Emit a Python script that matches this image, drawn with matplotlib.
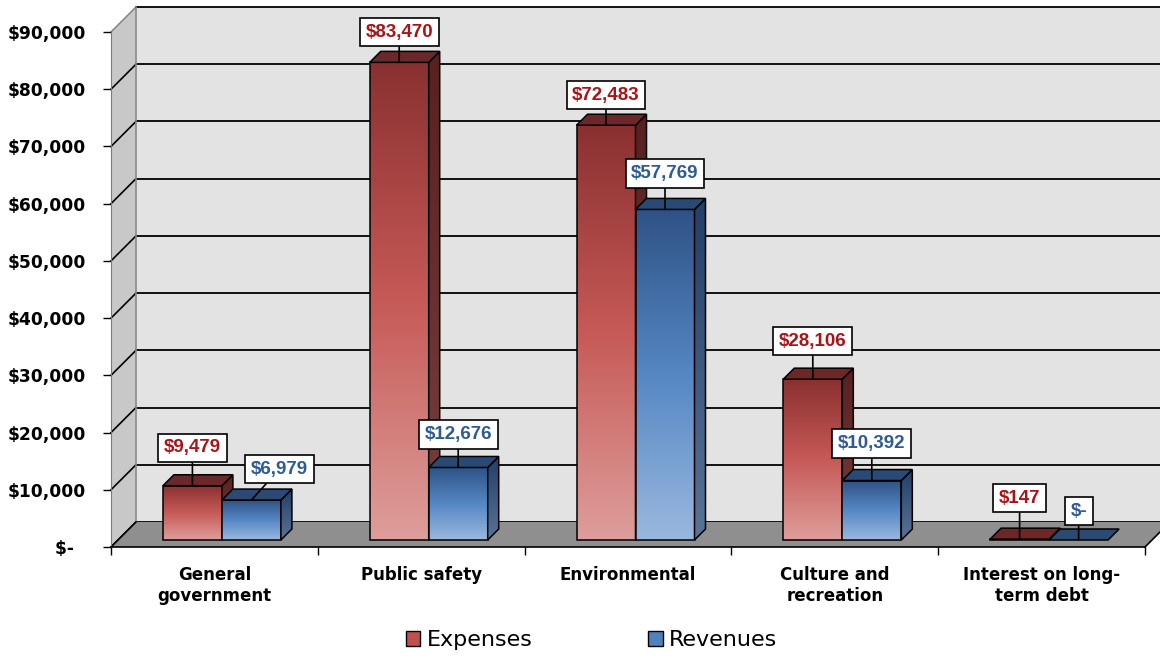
import matplotlib.pyplot as plt
import numpy as np
from matplotlib.colors import LinearSegmentedColormap
from matplotlib.patches import Polygon, Patch, Rectangle

categories = ['General\ngovernment', 'Public safety', 'Environmental',
              'Culture and\nrecreation', 'Interest on long-\nterm debt']
expenses = [9479, 83470, 72483, 28106, 147]
revenues = [6979, 12676, 57769, 10392, 0]
series_names = ['Expenses', 'Revenues']
yticks = [0, 10000, 20000, 30000, 40000, 50000, 60000, 70000, 80000, 90000]
ytick_labels = ['$-  '] + ['${:,}'.format(v) for v in yticks[1:]]

# label box nudges (pixels) relative to the top of each bar
exp_label_offsets = [(0, 38), (0, 30), (0, 30), (0, 38), (0, 41)]
rev_label_offsets = [(28, 31), (0, 33), (0, 36), (0, 37), (0, 29)]

W, H, DPI = 1160, 656, 100
fig = plt.figure(figsize=(W / DPI, H / DPI), dpi=DPI)
ax = fig.add_axes([111 / W, 109 / H, 1034 / W, 515 / H])
ax.set_xlim(0, 5)
ax.set_ylim(0, 90000)
ax.patch.set_visible(False)

# pixel -> data unit conversions for the fake 3d depth
PX = 5 / 1034
PY = 90000 / 515
wx, wy = 25 * PX, 25 * PY          # wall depth
ox, oy = 7.5 * PX, 7 * PY          # bar offset from front plane
bdx, bdy = 11 * PX, 11 * PY        # bar depth
bw = 59 * PX                       # bar width
ymax = yticks[-1]
xr = 5 + 2 * wx

# walls
ax.add_patch(Polygon([(0, 0), (0, ymax), (wx, ymax + wy), (wx, wy)],
                     closed=True, fc='#c8c8c8', ec='none', zorder=0, clip_on=False))
ax.add_patch(Polygon([(wx, wy), (wx, ymax + wy), (xr, ymax + wy), (xr, wy)],
                     closed=True, fc='#e3e3e3', ec='none', zorder=0, clip_on=False))
for v in yticks:
    c = '#8a8a8a' if v == ymax else 'black'
    ax.plot([0, wx], [v, v + wy], color=c, lw=1.2, zorder=1, clip_on=False)
    ax.plot([wx, xr], [v + wy, v + wy], color='black', lw=1.3, zorder=1, clip_on=False)
ax.plot([wx, wx], [wy, ymax + wy], color='#8a8a8a', lw=1.2, zorder=1, clip_on=False)

# floor
ax.add_patch(Polygon([(0, 0), (5, 0), (5 + wx, wy), (wx, wy)],
                     closed=True, fc='#8f8f8f', ec='none', zorder=2, clip_on=False))
ax.plot([0, wx], [0, wy], color='black', lw=1.2, zorder=2, clip_on=False)
ax.plot([5, 5 + wx], [0, wy], color='black', lw=1.2, zorder=2, clip_on=False)

styles = [
    dict(front=['#de9e9b', '#c65a57', '#8a3030'], side=['#7a4040', '#5a2020'],
         top='#6b2828', text='#a81418', legend=['#e0a09d', '#c0504d']),
    dict(front=['#9ab8df', '#5587c4', '#2e5285'], side=['#5a7398', '#233f66'],
         top='#2a4a75', text='#2f5b94', legend=['#a4c0e4', '#4f81bd']),
]
grad = np.linspace(0, 1, 256).reshape(-1, 1)

for i in range(len(categories)):
    for s, (vals, offs) in enumerate([(expenses, exp_label_offsets),
                                      (revenues, rev_label_offsets)]):
        st = styles[s]
        v = vals[i]
        z = 3 + i * 2 + s
        x0 = i + 0.5 - bw + ox + s * bw
        x1 = x0 + bw
        base, top = oy, oy + v
        if v > 0:
            cm = LinearSegmentedColormap.from_list('f', st['front'])
            ax.imshow(grad, extent=(x0, x1, base, top), origin='lower', cmap=cm,
                      aspect='auto', zorder=z, interpolation='bilinear')
            ax.add_patch(Rectangle((x0, base), bw, v, fc='none', ec='black',
                                   lw=1.1, zorder=z))
            side = Polygon([(x1, base), (x1 + bdx, base + bdy), (x1 + bdx, top + bdy), (x1, top)],
                           closed=True, fc='none', ec='black', lw=1.1, zorder=z)
            cs = LinearSegmentedColormap.from_list('s', st['side'])
            im = ax.imshow(grad, extent=(x1, x1 + bdx, base, top + bdy), origin='lower',
                           cmap=cs, aspect='auto', zorder=z, interpolation='bilinear')
            ax.add_patch(side)
            im.set_clip_path(side)
        ax.add_patch(Polygon([(x0, top), (x1, top), (x1 + bdx, top + bdy), (x0 + bdx, top + bdy)],
                             closed=True, fc=st['top'], ec='black', lw=1.1, zorder=z))
        label = '${:,}'.format(v) if v else '$-'
        dx, dy = offs[i]
        ax.annotate(label, xy=((x0 + x1) / 2, top), xytext=(dx * 0.72, dy * 0.72),
                    textcoords='offset points', ha='center', va='center',
                    fontsize=13.5, fontweight='bold', color=st['text'],
                    family='Liberation Sans', zorder=20,
                    bbox=dict(boxstyle='square,pad=0.3', fc='white', ec='black', lw=1.2),
                    arrowprops=dict(arrowstyle='-', color='black', lw=1.2,
                                    shrinkA=0, shrinkB=0))

ax.set_xlim(0, 5)
ax.set_ylim(0, 90000)

# axes and ticks
for sp in ['top', 'right']:
    ax.spines[sp].set_visible(False)
ax.spines['left'].set_color('#7a7a7a')
ax.spines['left'].set_zorder(2.5)
ax.spines['bottom'].set_color('black')
ax.spines['bottom'].set_linewidth(1.2)
ax.spines['bottom'].set_zorder(2.5)

ax.set_yticks(yticks)
ax.set_yticklabels(ytick_labels, fontsize=12.3, fontweight='bold')
ax.tick_params(axis='y', direction='out', length=6, width=1, pad=12)

ax.set_xticks([i + 0.5 for i in range(len(categories))])
ax.set_xticklabels(categories, fontsize=12, fontweight='bold')
ax.set_xticks(range(len(categories) + 1), minor=True)
ax.tick_params(axis='x', which='major', length=0, pad=14)
ax.tick_params(axis='x', which='minor', direction='out', length=6, width=1)

handles = [Patch(fc=st['legend'][1], ec='black', lw=1) for st in styles]
fig.legend(handles, series_names, ncol=2, loc='center', bbox_to_anchor=(0.51, 0.024),
           frameon=False, fontsize=16, handlelength=0.65, handleheight=0.7,
           handletextpad=0.3, columnspacing=5.2)

fig.savefig('out.png', dpi=DPI)
